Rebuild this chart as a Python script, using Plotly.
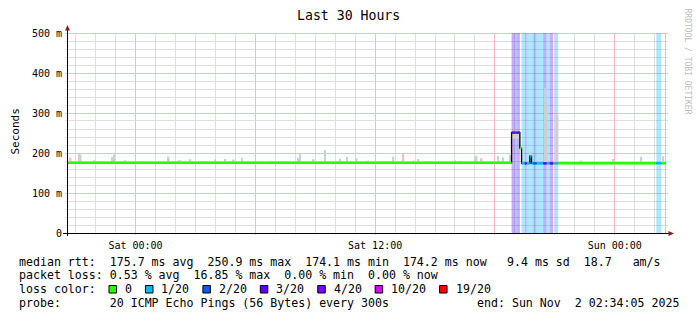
import math
import plotly.graph_objects as go
import pandas as pd

# ---------------- data ----------------
T_START = "2025-10-31 20:34:05"
T_END = "2025-11-02 02:34:05"

# median rtt (ms) as step segments between consecutive bounds, with loss level index
seg_bounds = [T_START, "2025-11-01 18:50", "2025-11-01 19:00", "2025-11-01 19:05", "2025-11-01 19:15",
              "2025-11-01 19:20", "2025-11-01 19:30", "2025-11-01 19:35", "2025-11-01 19:45",
              "2025-11-01 19:50", "2025-11-01 19:55", "2025-11-01 20:05", "2025-11-01 20:25",
              "2025-11-01 20:35", "2025-11-01 20:45", "2025-11-01 20:55", "2025-11-01 21:00",
              "2025-11-01 21:10", "2025-11-02 02:05", "2025-11-02 02:20", T_END]
seg_median = [175.5, 251, 251, 251, 212, 174, 174, 174, 192, 174, 174, 174, 174, 174, 174,
              174, 174, 174.3, 174.3, 174.3]
seg_loss = [0, 3, 2, 3, 0, 1, 3, 1, 1, 1, 2, 1, 3, 1, 3, 0, 1, 0, 1, 0]

# smoke (ping spread) per 5-minute step, ms
smoke_time = ["2025-10-31 20:45", "2025-10-31 21:10", "2025-10-31 21:15", "2025-10-31 21:55",
              "2025-10-31 22:25", "2025-10-31 22:50", "2025-10-31 22:55", "2025-10-31 23:30",
              "2025-11-01 00:15", "2025-11-01 01:10", "2025-11-01 01:40", "2025-11-01 02:10",
              "2025-11-01 02:15", "2025-11-01 02:45", "2025-11-01 03:00", "2025-11-01 03:35",
              "2025-11-01 03:40", "2025-11-01 04:00", "2025-11-01 04:30", "2025-11-01 04:55",
              "2025-11-01 05:20", "2025-11-01 05:40", "2025-11-01 06:45", "2025-11-01 06:50",
              "2025-11-01 06:55", "2025-11-01 07:40", "2025-11-01 08:10", "2025-11-01 08:15",
              "2025-11-01 08:55", "2025-11-01 09:30", "2025-11-01 10:15", "2025-11-01 10:35",
              "2025-11-01 11:05", "2025-11-01 11:35", "2025-11-01 11:40", "2025-11-01 12:05",
              "2025-11-01 12:45", "2025-11-01 12:55", "2025-11-01 13:25", "2025-11-01 13:55",
              "2025-11-01 14:10", "2025-11-01 14:35", "2025-11-01 16:00", "2025-11-01 16:15",
              "2025-11-01 17:00", "2025-11-01 17:05", "2025-11-01 17:20", "2025-11-01 18:10",
              "2025-11-01 18:25", "2025-11-01 18:45", "2025-11-01 18:55", "2025-11-01 19:00",
              "2025-11-01 19:05", "2025-11-01 19:10", "2025-11-01 19:47:30", "2025-11-01 20:15",
              "2025-11-01 20:30", "2025-11-01 20:35", "2025-11-01 21:08", "2025-11-01 21:35",
              "2025-11-01 22:20", "2025-11-01 23:55", "2025-11-02 00:05", "2025-11-02 01:20",
              "2025-11-02 02:25"]
smoke_high = [189, 199, 196, 182, 180, 190, 197, 182, 178, 179, 191, 181, 182, 185, 180, 179,
              180, 184, 185, 184, 188, 180, 180, 180, 179, 179, 188, 197, 185, 208, 186, 190,
              187, 180, 181, 178, 180, 191, 199, 181, 185, 178, 181, 180, 188, 193, 187, 193,
              189, 195, 250, 250, 249, 249, 204, 187, 362, 320, 295, 180, 181, 185, 179, 191,
              192]
smoke_low = [173] * 50 + [236, 236, 236, 236] + [173] * 11

loss_labels = ["0", "1/20", "2/20", "3/20", "4/20", "10/20", "19/20"]
loss_colors = ["#26ff00", "#00b8ff", "#0059ff", "#5e00ff", "#7e00ff", "#dd00ff", "#ff0000"]

y_tick_vals = [0, 100, 200, 300, 400, 500]
y_tick_text = ["0", "100 m", "200 m", "300 m", "400 m", "500 m"]
x_label_vals = ["2025-11-01 00:00", "2025-11-01 12:00", "2025-11-02 00:00"]
x_label_text = ["Sat 00:00", "Sat 12:00", "Sun 00:00"]
x_major_vals = ["2025-11-01 00:00", "2025-11-01 06:00", "2025-11-01 12:00",
                "2025-11-01 18:00", "2025-11-02 00:00"]

title_text = "Last 30 Hours"
footer_rtt_left = "median rtt:  175.7 ms avg  250.9 ms max  174.1 ms min  174.2 ms now"
footer_rtt_right = "9.4 ms sd  18.7   am/s"
footer_loss = "packet loss: 0.53 % avg  16.85 % max  0.00 % min  0.00 % now"
footer_color = "loss color:"
footer_probe = "probe:       20 ICMP Echo Pings (56 Bytes) every 300s"
footer_end = "end: Sun Nov  2 02:34:05 2025"

# ---------------- layout constants ----------------
W, H = 697, 321
L, R, T, B = 67, 666, 33, 233
MONO = "DejaVu Sans Mono"
MAJOR = "#f2bcbc"
MINOR = "#dedede"


def px(x):
    return (x - L) / (R - L)


def py(y):
    return (B - y) / (B - T)


def rgba(hexc, a):
    h = hexc.lstrip("#")
    return "rgba(%d,%d,%d,%.2f)" % (int(h[0:2], 16), int(h[2:4], 16), int(h[4:6], 16), a)


def nb(s):
    return s.replace(" ", "\u00a0")


def dt(v):
    return pd.to_datetime(v, format="mixed")


t0_all, t1_all = dt(T_START), dt(T_END)


def time_px(t):
    return L + (t - t0_all).total_seconds() / (t1_all - t0_all).total_seconds() * (R - L)


def val_px(v):
    return B - v / 500.0 * (B - T)


def crisp(p):
    return math.floor(p) + 0.5


bounds = dt(seg_bounds)
fig = go.Figure()

# loss background bands
band_x, band_w, band_c = [], [], []
for i, lv in enumerate(seg_loss):
    if lv > 0:
        a, b = bounds[i], bounds[i + 1]
        band_x.append(a + (b - a) / 2)
        band_w.append((b - a).total_seconds() * 1000)
        band_c.append(rgba(loss_colors[lv], 0.33))
fig.add_trace(go.Bar(x=band_x, y=[y_tick_vals[-1]] * len(band_x), base=0, width=band_w,
                     marker=dict(color=band_c, line_width=0), hoverinfo="skip"))

# smoke
fig.add_trace(go.Bar(x=dt(smoke_time),
                     y=[h - l for h, l in zip(smoke_high, smoke_low)], base=smoke_low,
                     width=300000, marker=dict(color="#cfcfcf", line_width=0), hoverinfo="skip"))

# black median step outline
mx, my = [], []
for i, v in enumerate(seg_median):
    mx += [bounds[i], bounds[i + 1]]
    my += [v, v]
fig.add_trace(go.Scatter(x=mx, y=my, mode="lines", line=dict(color="black", width=1.3),
                         hoverinfo="skip"))

# coloured median by loss
for lv in sorted(set(seg_loss)):
    xs, ys = [], []
    for i, v in enumerate(seg_median):
        if seg_loss[i] == lv:
            xs += [bounds[i], bounds[i + 1], None]
            ys += [v, v, None]
    fig.add_trace(go.Scatter(x=xs, y=ys, mode="lines", line=dict(color=loss_colors[lv], width=2.5),
                             hoverinfo="skip"))

shapes = []


def hline(ypix, x0, x1, color):
    shapes.append(dict(type="line", xref="paper", yref="paper", x0=px(x0), x1=px(x1),
                       y0=py(ypix), y1=py(ypix), line=dict(color=color, width=1), layer="below"))


def vline(xpix, y0, y1, color):
    shapes.append(dict(type="line", xref="paper", yref="paper", x0=px(xpix), x1=px(xpix),
                       y0=py(y0), y1=py(y1), line=dict(color=color, width=1), layer="below"))


# grid: minor hourly / 20 ms, major 6-hourly / 100 ms
major_x = set(dt(x_major_vals))
for h in pd.date_range(t0_all.ceil("h"), t1_all, freq="h"):
    if h not in major_x:
        vline(crisp(time_px(h)), B + 2, T, MINOR)
for v in range(20, 501, 20):
    if v not in y_tick_vals:
        hline(crisp(val_px(v)), L - 2, R + 2, MINOR)
for h in major_x:
    vline(crisp(time_px(h)), B + 2, T, MAJOR)
for v in y_tick_vals[1:]:
    hline(crisp(val_px(v)), L - 2, R + 2, MAJOR)
vline(665.5, B, T, MAJOR)

# axes
shapes.append(dict(type="line", xref="paper", yref="paper", x0=px(63), x1=px(669), y0=py(233.5),
                   y1=py(233.5), line=dict(color="black", width=1)))
shapes.append(dict(type="line", xref="paper", yref="paper", x0=px(67.5), x1=px(67.5), y0=py(236),
                   y1=py(29), line=dict(color="black", width=1)))
shapes.append(dict(type="path", xref="paper", yref="paper", fillcolor="#8e1b1b", line=dict(width=0),
                   path="M %f %f L %f %f L %f %f Z" % (px(67.5), py(25), px(65), py(30.5), px(70), py(30.5))))
shapes.append(dict(type="path", xref="paper", yref="paper", fillcolor="#8e1b1b", line=dict(width=0),
                   path="M %f %f L %f %f L %f %f Z" % (px(674), py(233.5), px(668.5), py(231), px(668.5), py(236))))

ann = []


def text(x, y, s, size, xanchor="left", angle=0, color="black"):
    ann.append(dict(xref="paper", yref="paper", x=px(x), y=py(y), text=nb(s), showarrow=False,
                    xanchor=xanchor, yanchor="middle", textangle=angle,
                    font=dict(family=MONO, size=size, color=color)))


text(348.3, 15.7, title_text, 13.2, "center")
text(14.5, 132, "Seconds", 11, "center", -90)
text(687.5, 61, "RRDTOOL / TOBI OETIKER", 8, "center", 90, "#bcbcbc")
FS = 11.6
text(16.5, 261.7, footer_rtt_left, FS)
text(662.8, 261.7, footer_rtt_right, FS, "right")
text(16.5, 275.4, footer_loss, FS)
text(16.5, 289.3, footer_color, FS)
text(16.5, 303, footer_probe, FS)
text(681, 303, footer_end, FS, "right")

# loss colour legend
lx = 123.0
for lab, col in zip(loss_labels, loss_colors):
    shapes.append(dict(type="rect", xref="paper", yref="paper", x0=px(lx - 14), x1=px(lx - 6.5),
                       y0=py(293), y1=py(285.5), fillcolor=col, line=dict(color="black", width=1)))
    text(lx, 289.3, lab, FS)
    lx += 6.98 * len(lab) + 29.5

fig.update_layout(
    width=W, height=H, margin=dict(l=L, r=W - R, t=T, b=H - B, pad=0),
    paper_bgcolor="white", plot_bgcolor="white", showlegend=False, barmode="overlay",
    hovermode=False, shapes=shapes, annotations=ann,
    xaxis=dict(type="date", range=[T_START, T_END], tickmode="array", tickvals=x_label_vals,
               ticktext=x_label_text, showgrid=False, ticks="", ticklabelstandoff=5,
               tickfont=dict(family=MONO, size=10, color="black"), showline=False, zeroline=False,
               fixedrange=True),
    yaxis=dict(range=[0, 500], tickmode="array", tickvals=y_tick_vals, ticktext=y_tick_text,
               showgrid=False, ticks="", ticklabelstandoff=4,
               tickfont=dict(family=MONO, size=10, color="black"), showline=False, zeroline=False,
               fixedrange=True),
)

fig.write_html("out.html")
